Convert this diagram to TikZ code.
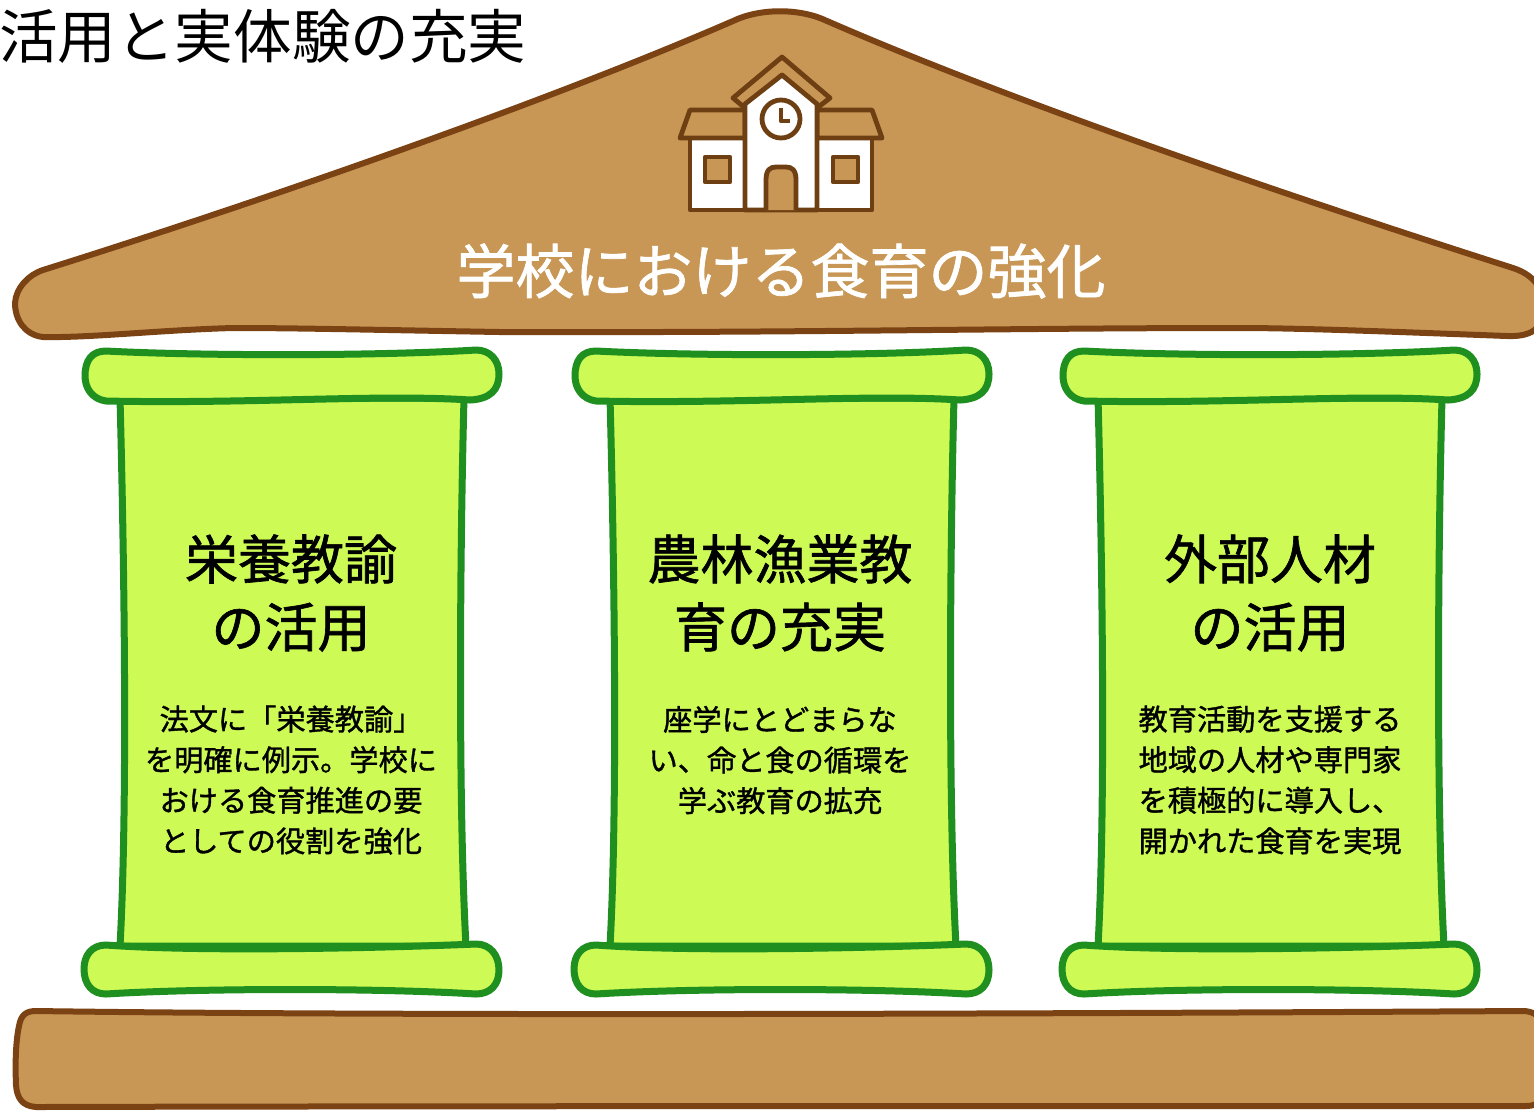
\documentclass[tikz,border=0pt]{standalone}
\usepackage{fontspec}
\newfontfamily\cjk{Noto Sans CJK JP}
\newfontfamily\cjkmed[FakeBold=1.2]{Noto Sans CJK JP}
\tikzset{
  roofline/.style={draw=roofedge,line width=3pt,fill=roof,line join=round},
  pillarline/.style={draw=pillargreen,line width=3.5pt,fill=pillarfill,line join=round},
  iconline/.style={draw=iconbrown,line width=2.4pt,line join=round},
  titletext/.style={font=\cjk\fontsize{29.3}{35}\selectfont,text=black,anchor=west},
  rooftext/.style={font=\cjkmed\fontsize{29.5}{35}\selectfont,text=white},
  headtext/.style={font=\cjkmed\fontsize{26.5}{34}\selectfont,text=black,align=center},
  bodytext/.style={font=\cjkmed\fontsize{14.6}{20.3}\selectfont,text=black,align=center},
}
\definecolor{roof}{HTML}{C99755}
\definecolor{roofedge}{HTML}{7B4314}
\definecolor{iconbrown}{HTML}{6E3F12}
\definecolor{pillargreen}{HTML}{1F8F1F}
\definecolor{pillarfill}{HTML}{CDFA55}
\begin{document}
\begin{tikzpicture}[x=0.5pt,y=-0.5pt]
  \useasboundingbox (0,0) rectangle (1534,1110);
  \node[titletext] (pagetitle) at (-8,36) {活用と実体験の充実};
  %roof
  \draw[roofline] (43,337) .. controls (25,335) and (15,320) .. (15,303)
    .. controls (16,288) and (28,275) .. (43,270)
    .. controls (250,205) and (540,105) .. (733,21)
    .. controls (760,8) and (800,8) .. (827,21)
    .. controls (1020,105) and (1300,200) .. (1513,268)
    .. controls (1525,272) and (1534,278) .. (1541,290)
    -- (1546,310) .. controls (1542,328) and (1532,337) .. (1507,336)
    .. controls (1400,332) and (1300,328) .. (1240,328)
    .. controls (1000,328) and (800,333) .. (500,332)
    .. controls (380,330) and (300,328) .. (233,328)
    .. controls (160,330) and (90,338) .. (43,337) -- cycle;
  %school icon
  \draw[iconline,fill=white] (690,210) -- (690,138) -- (745,138) -- (745,210) -- cycle;
  \draw[iconline,fill=white] (817,138) -- (872,138) -- (872,210) -- (817,210) -- cycle;
  \draw[iconline] (680,138) -- (690,110) -- (745,110) -- (745,138) -- cycle;
  \draw[iconline] (817,110) -- (872,110) -- (882,138) -- (817,138) -- cycle;
  \draw[iconline] (733,98) -- (782,57) -- (830,98) -- (817,108) -- (782,75) -- (745,108) -- cycle;
  \draw[iconline,fill=white] (745,210) -- (745,104) -- (782,75) -- (817,104) -- (817,210) -- cycle;
  \draw[iconline,fill=roof] (705,157) rectangle (730,182);
  \draw[iconline,fill=roof] (833,157) rectangle (858,182);
  \draw[iconline,fill=roof] (766,210) -- (766,180) .. controls (766,170) and (770,167) .. (776,167)
    -- (786,167) .. controls (792,167) and (796,170) .. (796,180) -- (796,210);
  \draw[iconline] (781,119) circle (19);
  \draw[iconline] (781,108) -- (781,121) -- (790,121);
  \node[rooftext] (rooflabel) at (781,271) {学校における食育の強化};
  %pillars
  \foreach \dx in {0,490,978} {
    \begin{scope}[xshift=\dx*0.5pt]
      \draw[pillarline] (120,398) .. controls (124,550) and (128,800) .. (120,946)
        -- (466,946) .. controls (458,800) and (460,550) .. (464,398) -- cycle;
      \draw[pillarline] (106,351) .. controls (200,356) and (380,356) .. (476,350)
        .. controls (490,350) and (499,360) .. (499,374)
        .. controls (499,390) and (490,399) .. (470,400)
        .. controls (380,394) and (250,404) .. (106,401)
        .. controls (92,399) and (85,388) .. (85,376)
        .. controls (85,360) and (92,351) .. (106,351) -- cycle;
      \draw[pillarline] (106,945) .. controls (200,952) and (380,948) .. (476,944)
        .. controls (490,944) and (499,955) .. (499,970)
        .. controls (499,985) and (490,994) .. (476,994)
        .. controls (380,988) and (200,988) .. (106,994)
        .. controls (92,994) and (84,984) .. (84,969)
        .. controls (84,955) and (92,945) .. (106,945) -- cycle;
    \end{scope}
  }
  %base
  \draw[roofline] (36,1011) .. controls (400,1016) and (1000,1014) .. (1525,1011)
    .. controls (1534,1012) and (1540,1016) .. (1542,1024)
    -- (1542,1095) .. controls (1540,1104) and (1534,1106) .. (1525,1106)
    .. controls (1000,1106) and (400,1106) .. (36,1107)
    .. controls (22,1106) and (17,1098) .. (16,1085)
    .. controls (15,1060) and (16,1040) .. (19,1026)
    .. controls (21,1014) and (27,1011) .. (36,1011) -- cycle;
  %labels
  \node[headtext] (headone) at (291,593) {栄養教諭\\の活用};
  \node[headtext] (headtwo) at (780,593) {農林漁業教\\育の充実};
  \node[headtext] (headthree) at (1270,593) {外部人材\\の活用};
  \node[bodytext] (bodyone) at (291,780) {法文に「栄養教諭」\\を明確に例示。学校に\\おける食育推進の要\\としての役割を強化};
  \node[bodytext] (bodytwo) at (780,760) {座学にとどまらな\\い、命と食の循環を\\学ぶ教育の拡充};
  \node[bodytext] (bodythree) at (1270,780) {教育活動を支援する\\地域の人材や専門家\\を積極的に導入し、\\開かれた食育を実現};
\end{tikzpicture}
\end{document}
